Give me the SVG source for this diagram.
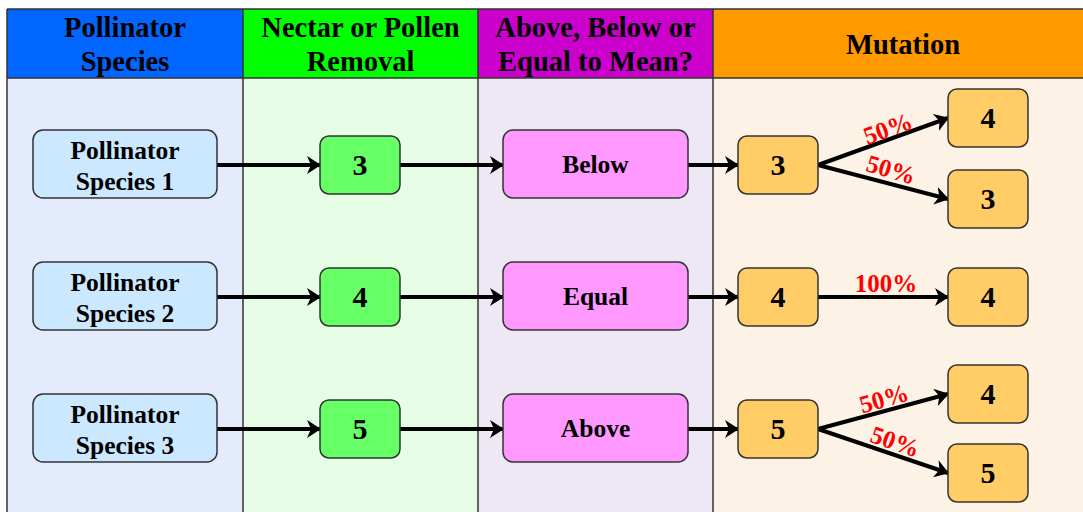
<svg xmlns="http://www.w3.org/2000/svg" width="1083" height="512" viewBox="0 0 1083 512">
<style>
.hdr{font-family:"Liberation Serif","Times New Roman",serif;font-weight:bold;font-size:28.5px;text-anchor:middle;fill:#000}
.t{font-family:"Liberation Serif","Times New Roman",serif;font-weight:bold;font-size:25.5px;text-anchor:middle;fill:#000}
.n{font-family:"Liberation Serif","Times New Roman",serif;font-weight:bold;font-size:30px;text-anchor:middle;fill:#000}
.p{font-family:"Liberation Serif","Times New Roman",serif;font-weight:bold;font-size:25px;text-anchor:middle;fill:#FF0000}
.box{stroke:#333;stroke-width:1.5}
.sp{fill:#CCE8FF}
.gr{fill:#66FF66}
.pk{fill:#FF99FF}
.or{fill:#FFCC66}
.grid{stroke:#333;stroke-width:1.5;fill:none}
.c{stroke:#000;stroke-width:4;fill:none;stroke-linecap:round}
</style>
<defs>
<marker id="arr" viewBox="0 0 14 18" refX="13" refY="9" markerWidth="14" markerHeight="18" markerUnits="userSpaceOnUse" orient="auto">
<path d="M0,0 L14,9 L0,18 L4,9 z" fill="#000"/>
</marker>
</defs>
<rect x="0" y="0" width="1083" height="512" fill="#fff"/>
<g id="lanes">
<rect x="7" y="78" width="236" height="440" fill="#E3EBFC"/>
<rect x="243" y="78" width="235" height="440" fill="#E5FCE5"/>
<rect x="478" y="78" width="235" height="440" fill="#EEE8F5"/>
<rect x="713" y="78" width="380" height="440" fill="#FCF3E6"/>
<rect x="7" y="9" width="236" height="69" fill="#0066FF"/>
<rect x="243" y="9" width="235" height="69" fill="#00FF00"/>
<rect x="478" y="9" width="235" height="69" fill="#CC00CC"/>
<rect x="713" y="9" width="380" height="69" fill="#FF9900"/>
<path class="grid" d="M7,9 H1093 M7,78 H1093 M7,9 V520 M243,9 V520 M478,9 V520 M713,9 V520"/>
<text class="hdr" x="125" y="37">Pollinator</text>
<text class="hdr" x="125" y="71">Species</text>
<text class="hdr" x="360.5" y="37">Nectar or Pollen</text>
<text class="hdr" x="360.5" y="71">Removal</text>
<text class="hdr" x="595.5" y="37">Above, Below or</text>
<text class="hdr" x="595.5" y="71">Equal to Mean?</text>
<text class="hdr" x="903" y="54">Mutation</text>
</g>
<g id="connectors">
<line class="c" x1="217" y1="165" x2="320" y2="165" marker-end="url(#arr)"/>
<line class="c" x1="400" y1="165" x2="503" y2="165" marker-end="url(#arr)"/>
<line class="c" x1="688" y1="165" x2="738" y2="165" marker-end="url(#arr)"/>
<line class="c" x1="818" y1="165" x2="948" y2="118" marker-end="url(#arr)"/>
<line class="c" x1="818" y1="165" x2="948" y2="199" marker-end="url(#arr)"/>
<line class="c" x1="217" y1="297" x2="320" y2="297" marker-end="url(#arr)"/>
<line class="c" x1="400" y1="297" x2="503" y2="297" marker-end="url(#arr)"/>
<line class="c" x1="688" y1="297" x2="738" y2="297" marker-end="url(#arr)"/>
<line class="c" x1="818" y1="297" x2="948" y2="297" marker-end="url(#arr)"/>
<line class="c" x1="217" y1="429" x2="320" y2="429" marker-end="url(#arr)"/>
<line class="c" x1="400" y1="429" x2="503" y2="429" marker-end="url(#arr)"/>
<line class="c" x1="688" y1="429" x2="738" y2="429" marker-end="url(#arr)"/>
<line class="c" x1="818" y1="429" x2="948" y2="394" marker-end="url(#arr)"/>
<line class="c" x1="818" y1="429" x2="948" y2="473" marker-end="url(#arr)"/>
<text class="p" transform="translate(888,129) rotate(-20)" y="8">50%</text>
<text class="p" transform="translate(891,170) rotate(16)" y="8">50%</text>
<text class="p" x="886" y="292">100%</text>
<text class="p" transform="translate(884,399) rotate(-16)" y="8">50%</text>
<text class="p" transform="translate(895,442) rotate(19)" y="8">50%</text>
</g>
<g id="species1"><rect class="box sp" x="33" y="130" width="184" height="68" rx="10"/><text class="t" x="125" y="159">Pollinator</text><text class="t" x="125" y="190">Species 1</text></g>
<g id="species2"><rect class="box sp" x="33" y="262" width="184" height="68" rx="10"/><text class="t" x="125" y="291">Pollinator</text><text class="t" x="125" y="322">Species 2</text></g>
<g id="species3"><rect class="box sp" x="33" y="394" width="184" height="68" rx="10"/><text class="t" x="125" y="423">Pollinator</text><text class="t" x="125" y="454">Species 3</text></g>
<g id="removal1"><rect class="box gr" x="320" y="136" width="80" height="58" rx="9"/><text class="n" x="360" y="175">3</text></g>
<g id="removal2"><rect class="box gr" x="320" y="268" width="80" height="58" rx="9"/><text class="n" x="360" y="307">4</text></g>
<g id="removal3"><rect class="box gr" x="320" y="400" width="80" height="58" rx="9"/><text class="n" x="360" y="439">5</text></g>
<g id="cmp1"><rect class="box pk" x="503" y="130" width="185" height="68" rx="10"/><text class="t" x="595.5" y="173">Below</text></g>
<g id="cmp2"><rect class="box pk" x="503" y="262" width="185" height="68" rx="10"/><text class="t" x="595.5" y="305">Equal</text></g>
<g id="cmp3"><rect class="box pk" x="503" y="394" width="185" height="68" rx="10"/><text class="t" x="595.5" y="437">Above</text></g>
<g id="mut1"><rect class="box or" x="738" y="136" width="80" height="58" rx="9"/><text class="n" x="778" y="175">3</text></g>
<g id="mut2"><rect class="box or" x="738" y="268" width="80" height="58" rx="9"/><text class="n" x="778" y="307">4</text></g>
<g id="mut3"><rect class="box or" x="738" y="400" width="80" height="58" rx="9"/><text class="n" x="778" y="439">5</text></g>
<g id="res1a"><rect class="box or" x="948" y="89" width="80" height="58" rx="9"/><text class="n" x="988" y="128">4</text></g>
<g id="res1b"><rect class="box or" x="948" y="170" width="80" height="58" rx="9"/><text class="n" x="988" y="209">3</text></g>
<g id="res2"><rect class="box or" x="948" y="268" width="80" height="58" rx="9"/><text class="n" x="988" y="307">4</text></g>
<g id="res3a"><rect class="box or" x="948" y="365" width="80" height="58" rx="9"/><text class="n" x="988" y="404">4</text></g>
<g id="res3b"><rect class="box or" x="948" y="444" width="80" height="58" rx="9"/><text class="n" x="988" y="483">5</text></g>
</svg>
